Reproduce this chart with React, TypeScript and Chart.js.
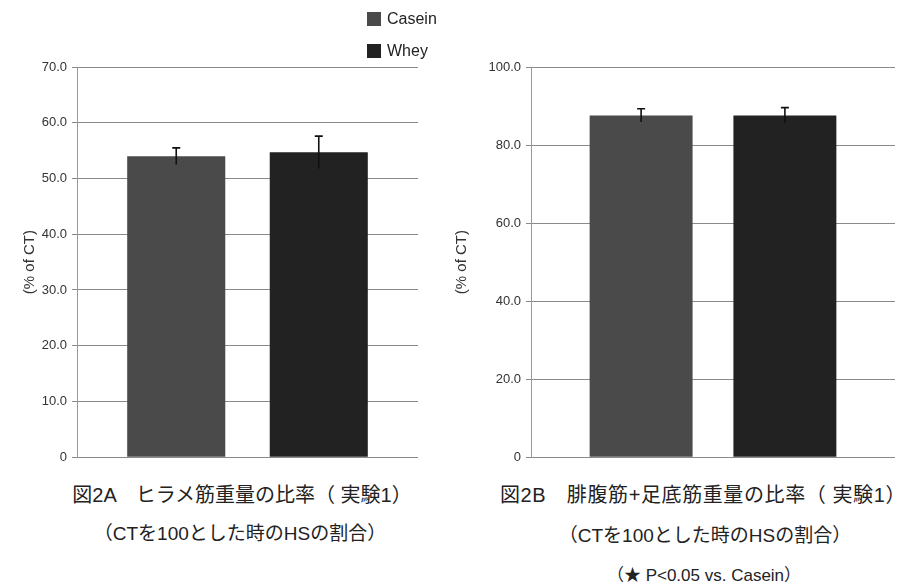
import React, { useEffect, useRef } from "react";
import { Chart, registerables } from "chart.js";

Chart.register(...registerables);

// ---- data ----
const seriesNames = ["Casein", "Whey"];
const seriesColors = ["#4a4a4a", "#222222"];
const panelTitles = ["図2A　ヒラメ筋重量の比率（ 実験1）", "図2B　腓腹筋+足底筋重量の比率（ 実験1）"];
const panelSubtitles = ["（CTを100とした時のHSの割合）", "（CTを100とした時のHSの割合）"];
const panelNotes = ["", "（★ P<0.05 vs. Casein）"];
const caseinMeans = [54.0, 87.6];
const wheyMeans = [54.7, 87.6];
const caseinErr = [1.5, 1.7];
const wheyErr = [2.9, 2.0];
const yMaxes = [70, 100];
const ySteps = [10, 20];
const yTitle = "(% of CT)";

const errorBarPlugin = {
  id: "errorBars",
  afterDatasetsDraw(chart: any) {
    const ctx = chart.ctx;
    const yScale = chart.scales.y;
    chart.data.datasets.forEach((ds: any, i: number) => {
      const meta = chart.getDatasetMeta(i);
      meta.data.forEach((bar: any, j: number) => {
        const v = ds.data[j];
        const e = ds.errors[j];
        const top = yScale.getPixelForValue(v + e);
        const bot = yScale.getPixelForValue(v - e);
        ctx.save();
        ctx.strokeStyle = "#111";
        ctx.lineWidth = 1.6;
        ctx.beginPath();
        ctx.moveTo(bar.x, bot);
        ctx.lineTo(bar.x, top);
        ctx.moveTo(bar.x - 4, top);
        ctx.lineTo(bar.x + 4, top);
        ctx.stroke();
        ctx.restore();
      });
    });
  },
};

function Panel({ idx, left, width, axisWidth, titlePad, chartRight, chartBottom, catPct, barPct }: any) {
  const ref = useRef<HTMLCanvasElement | null>(null);
  useEffect(() => {
    if (!ref.current) return;
    const chart = new Chart(ref.current, {
      type: "bar",
      data: {
        labels: [""],
        datasets: [
          {
            label: seriesNames[0],
            data: [caseinMeans[idx]],
            errors: [caseinErr[idx]],
            backgroundColor: seriesColors[0],
            categoryPercentage: catPct,
            barPercentage: barPct,
          } as any,
          {
            label: seriesNames[1],
            data: [wheyMeans[idx]],
            errors: [wheyErr[idx]],
            backgroundColor: seriesColors[1],
            categoryPercentage: catPct,
            barPercentage: barPct,
          } as any,
        ],
      },
      options: {
        animation: false,
        responsive: false,
        layout: { padding: { left: 0, top: 67, right: width - chartRight, bottom: 470 - chartBottom } },
        plugins: { legend: { display: false }, tooltip: { enabled: false } },
        scales: {
          x: { display: false },
          y: {
            min: 0,
            max: yMaxes[idx],
            ticks: {
              stepSize: ySteps[idx],
              color: "#333",
              padding: 5,
              font: { family: "Liberation Sans", size: 13 },
              callback: (v: any) => (v === 0 ? "0" : Number(v).toFixed(1)),
            },
            grid: { color: "#8a8a8a", lineWidth: 1, tickLength: 5 },
            border: { display: true, color: "#999" },
            title: {
              display: true,
              text: yTitle,
              color: "#333",
              font: { family: "Liberation Sans", size: 15 },
              padding: { top: titlePad, bottom: 0 },
            },
            afterFit: (s: any) => {
              s.width = axisWidth;
            },
          },
        },
      } as any,
      plugins: [errorBarPlugin],
    });
    return () => chart.destroy();
  }, []);
  return (
    <canvas
      ref={ref}
      width={width}
      height={470}
      style={{ position: "absolute", left, top: 0, width, height: 470 }}
    />
  );
}

const capStyle: React.CSSProperties = {
  position: "absolute",
  textAlign: "center",
  fontFamily: "'Liberation Sans', 'Noto Sans CJK JP', sans-serif",
  color: "#222",
  whiteSpace: "nowrap",
  transform: "translateX(-50%)",
};

export default function App() {
  return (
    <div
      style={{
        position: "absolute",
        left: 0,
        top: 0,
        width: 917,
        height: 587,
        background: "#fff",
        overflow: "hidden",
      }}
    >
      <Panel idx={0} left={0} width={440} axisWidth={77} titlePad={21} chartRight={418} chartBottom={458} catPct={0.836} barPct={0.688} />
      <Panel idx={1} left={440} width={477} axisWidth={91} titlePad={13} chartRight={455} chartBottom={460} catPct={0.79} barPct={0.716} />
      {seriesNames.map((n, i) => (
        <div
          key={n}
          style={{
            position: "absolute",
            left: 367,
            top: 11 + i * 32,
            height: 16,
            display: "flex",
            alignItems: "center",
            fontFamily: "'Liberation Sans', Arial, sans-serif",
            fontSize: 16,
            color: "#222",
          }}
        >
          <span style={{ display: "inline-block", width: 14, height: 14, background: seriesColors[i], marginRight: 6 }} />
          {n}
        </div>
      ))}
      <div style={{ ...capStyle, left: 242, top: 479, fontSize: 20 }}>{panelTitles[0]}</div>
      <div style={{ ...capStyle, left: 240, top: 518, fontSize: 19 }}>{panelSubtitles[0]}</div>
      <div style={{ ...capStyle, left: 703, top: 479, fontSize: 20, letterSpacing: 0.6 }}>{panelTitles[1]}</div>
      <div style={{ ...capStyle, left: 705, top: 520, fontSize: 19 }}>{panelSubtitles[1]}</div>
      <div style={{ ...capStyle, left: 704, top: 561, fontSize: 17 }}>{panelNotes[1]}</div>
    </div>
  );
}
